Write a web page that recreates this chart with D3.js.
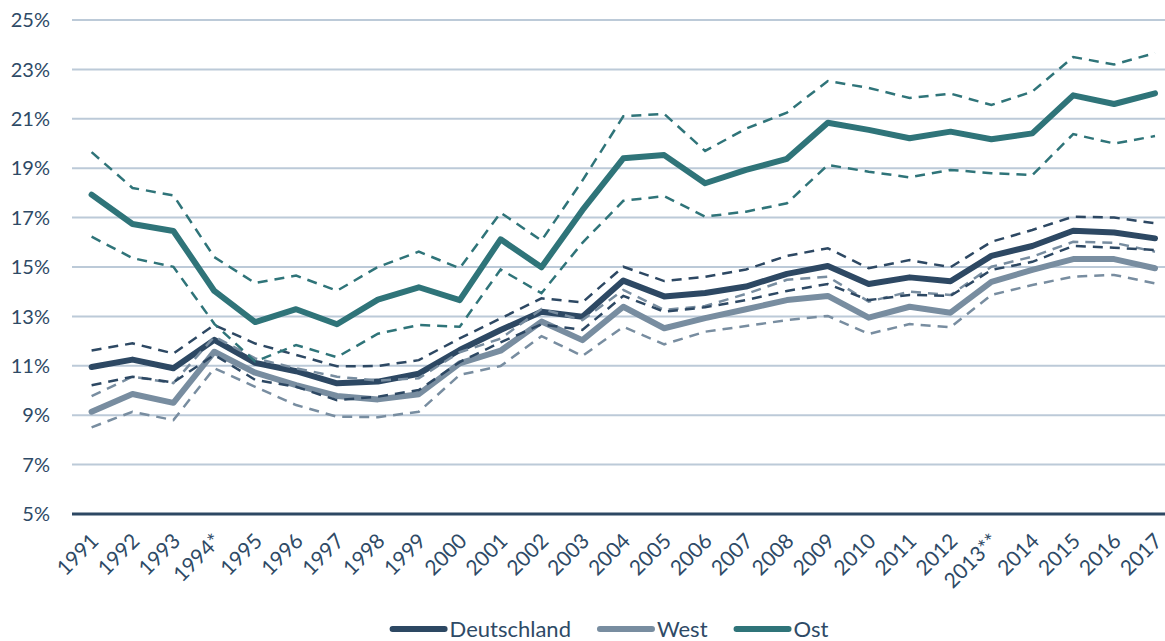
<!DOCTYPE html>
<html>
<head>
<meta charset="utf-8">
<script src="https://d3js.org/d3.v7.min.js"></script>
<style>
  body { margin: 0; background: #fff; font-family: Lato, "Open Sans", sans-serif; }
  svg text { fill: #2e4a66; }
</style>
</head>
<body>
<script>
// data (percent)
var years = ["1991","1992","1993","1994*","1995","1996","1997","1998","1999","2000",
  "2001","2002","2003","2004","2005","2006","2007","2008","2009","2010",
  "2011","2012","2013**","2014","2015","2016","2017"];

var deMain = [10.95,11.25,10.9,12.05,11.12,10.78,10.29,10.36,10.68,11.64,12.45,13.19,12.99,14.45,13.81,13.95,14.21,14.72,15.04,14.31,14.58,14.42,15.45,15.85,16.47,16.4,16.16];
var deUpper = [11.62,11.91,11.5,12.65,11.9,11.44,10.98,10.99,11.23,12.11,12.92,13.73,13.57,15.01,14.43,14.6,14.9,15.45,15.76,14.95,15.28,14.99,16.02,16.5,17.04,17.0,16.77];
var deLower = [10.21,10.56,10.33,11.44,10.43,10.15,9.61,9.75,10.02,11.15,11.95,12.68,12.45,13.83,13.19,13.37,13.66,14.03,14.31,13.66,13.87,13.83,14.88,15.21,15.85,15.78,15.69];

var westMain = [9.14,9.86,9.5,11.57,10.72,10.22,9.78,9.64,9.85,11.1,11.61,12.79,12.04,13.39,12.52,12.93,13.29,13.66,13.83,12.95,13.39,13.15,14.4,14.88,15.32,15.32,14.95];
var westUpper = [9.77,10.56,10.3,12.18,11.3,10.9,10.56,10.4,10.5,11.55,12.1,13.3,12.85,14.07,13.26,13.42,13.91,14.48,14.61,13.6,14.0,13.87,15.01,15.42,16.02,15.98,15.62];
var westLower = [8.51,9.14,8.8,10.9,10.15,9.41,8.94,8.92,9.14,10.63,10.99,12.2,11.4,12.58,11.87,12.38,12.61,12.85,13.02,12.29,12.69,12.56,13.87,14.27,14.61,14.68,14.34];

var ostMain = [17.93,16.74,16.46,14.03,12.77,13.29,12.68,13.68,14.18,13.66,16.12,14.99,17.3,19.4,19.53,18.39,18.93,19.38,20.84,20.55,20.21,20.48,20.17,20.41,21.95,21.6,22.03];
var ostUpper = [19.65,18.2,17.9,15.4,14.35,14.65,14.04,15.0,15.62,14.95,17.2,16.07,18.5,21.1,21.2,19.7,20.6,21.25,22.53,22.25,21.84,22.02,21.56,22.1,23.5,23.2,23.66];
var ostLower = [16.23,15.36,15.01,12.7,11.17,11.84,11.35,12.3,12.65,12.58,14.9,13.94,15.98,17.68,17.87,17.04,17.24,17.58,19.13,18.86,18.63,18.93,18.8,18.72,20.38,20.0,20.3];

var yTicks = [5,7,9,11,13,15,17,19,21,23,25];
var seriesNames = ["Deutschland","West","Ost"];

var colDE = "#2d4863", colWest = "#788da0", colOst = "#2f7479";

var width = 1165, height = 641;
var left = 72;

var svg = d3.select("body").append("svg")
  .attr("width", width)
  .attr("height", height);

var x = d3.scalePoint().domain(years).range([91.6, 1155]);
var y = d3.scaleLinear().domain([5, 25]).range([514, 20]);

// gridlines
svg.append("g").selectAll("line")
  .data(yTicks.slice(1))
  .enter().append("line")
  .attr("x1", left).attr("x2", width)
  .attr("y1", function(d) { return y(d); })
  .attr("y2", function(d) { return y(d); })
  .attr("stroke", "#bccad8")
  .attr("stroke-width", 2);

// y labels
svg.append("g").selectAll("text")
  .data(yTicks)
  .enter().append("text")
  .attr("x", 50)
  .attr("y", function(d) { return y(d); })
  .attr("dy", "0.36em")
  .attr("text-anchor", "end")
  .style("font-size", "20px")
  .text(function(d) { return d + "%"; });

// base axis
svg.append("line")
  .attr("x1", left).attr("x2", width)
  .attr("y1", y(5)).attr("y2", y(5))
  .attr("stroke", colDE)
  .attr("stroke-width", 3);

// x labels, rotated
svg.append("g").selectAll("text")
  .data(years)
  .enter().append("text")
  .attr("transform", function(d) { return "translate(" + (x(d) + 3) + ",537) rotate(-45)"; })
  .attr("text-anchor", "end")
  .attr("dy", "0.36em")
  .style("font-size", "21px")
  .text(function(d) { return d; });

var line = d3.line()
  .x(function(d, i) { return x(years[i]); })
  .y(function(d) { return y(d); });

var mains = [
  {vals: westMain, col: colWest},
  {vals: deMain, col: colDE},
  {vals: ostMain, col: colOst}
];
var bands = [
  {vals: westUpper, col: colWest}, {vals: westLower, col: colWest},
  {vals: deUpper, col: colDE}, {vals: deLower, col: colDE},
  {vals: ostUpper, col: colOst}, {vals: ostLower, col: colOst}
];

svg.append("g").selectAll("path")
  .data(mains)
  .enter().append("path")
  .attr("d", function(d) { return line(d.vals); })
  .attr("fill", "none")
  .attr("stroke", function(d) { return d.col; })
  .attr("stroke-width", 6)
  .attr("stroke-linejoin", "round")
  .attr("stroke-linecap", "round");

svg.append("g").selectAll("path")
  .data(bands)
  .enter().append("path")
  .attr("d", function(d) { return line(d.vals); })
  .attr("fill", "none")
  .attr("stroke", function(d) { return d.col; })
  .attr("stroke-width", 2.5)
  .attr("stroke-dasharray", "10,7");

// legend
var legend = svg.append("g");
var legCols = [colDE, colWest, colOst];
var lx = 0;
seriesNames.forEach(function(name, i) {
  var item = legend.append("g").attr("transform", "translate(" + lx + ",0)");
  item.append("line")
    .attr("x1", 3).attr("x2", 55)
    .attr("y1", 0).attr("y2", 0)
    .attr("stroke", legCols[i])
    .attr("stroke-width", 6)
    .attr("stroke-linecap", "round");
  var t = item.append("text")
    .attr("x", 60)
    .attr("dy", "0.36em")
    .style("font-size", "22px")
    .text(name);
  lx += 60 + t.node().getComputedTextLength() + 26;
});
var lw = lx - 26;
legend.attr("transform", "translate(" + (609 - lw / 2) + ",629)");
</script>
</body>
</html>
